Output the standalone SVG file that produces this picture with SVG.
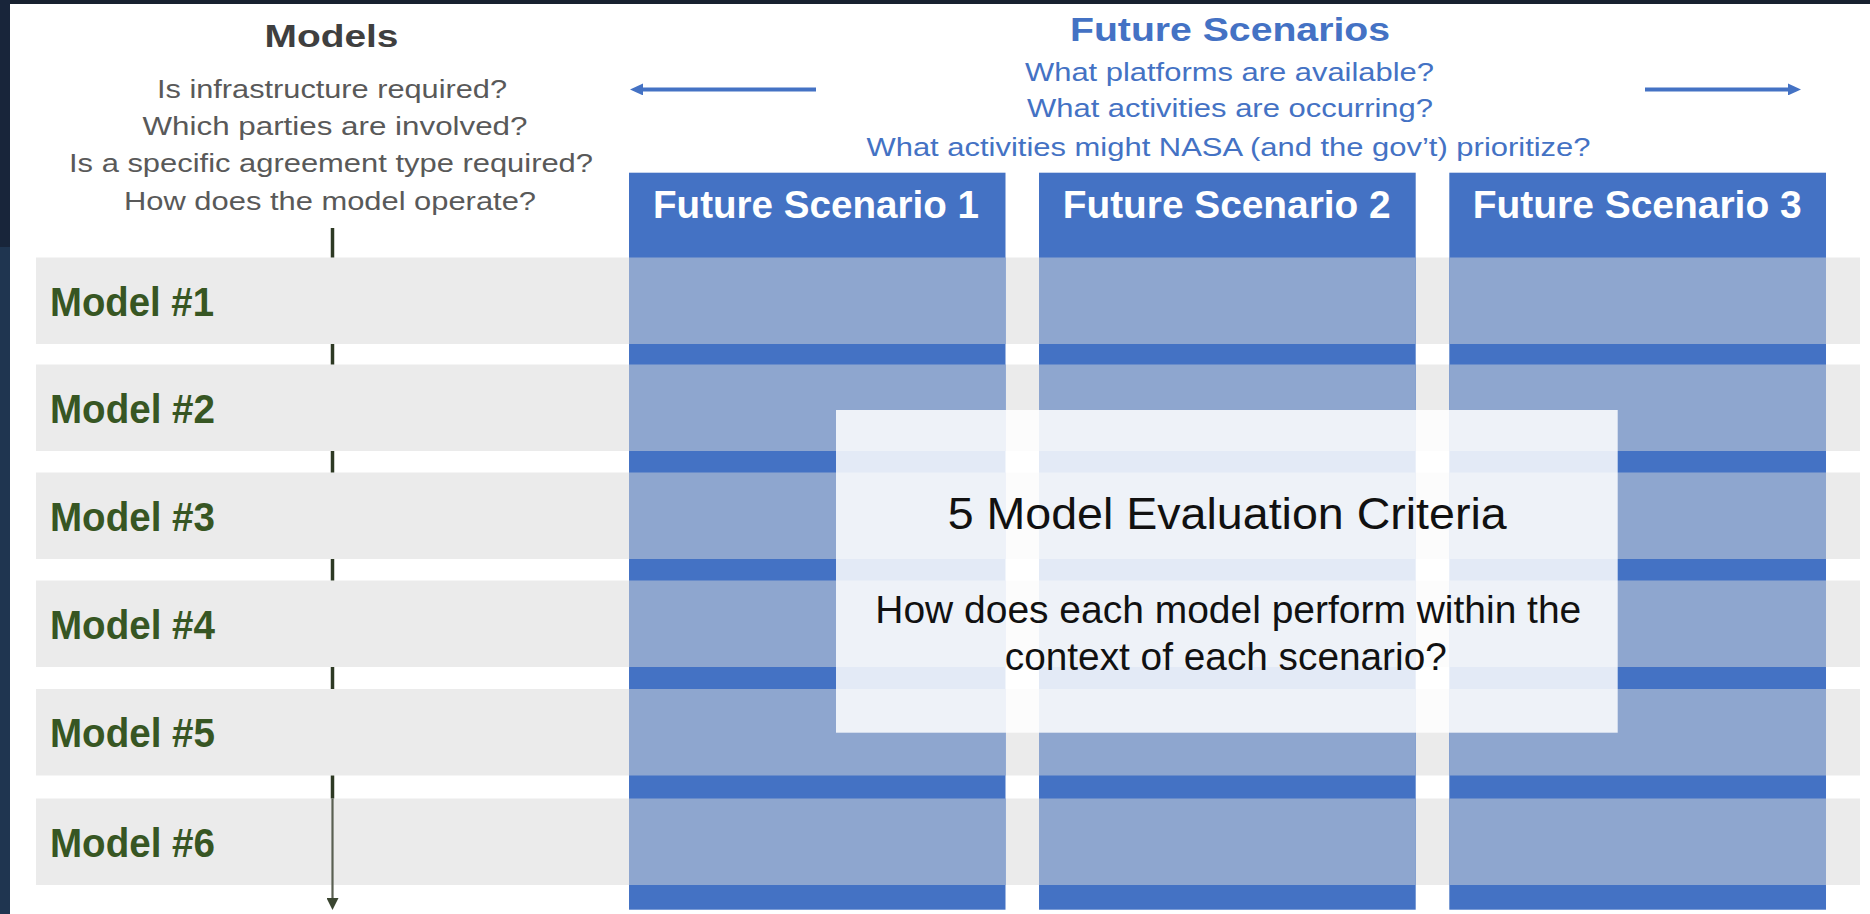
<svg xmlns="http://www.w3.org/2000/svg" width="1870" height="914" viewBox="0 0 1870 914">
  <style>
    text { font-family: "Liberation Sans", Arial, sans-serif; }
    .h-models { font-size: 32px; font-weight: bold; fill: #3f3f3f; }
    .q-models { font-size: 26px; fill: #595959; }
    .h-scen { font-size: 34px; font-weight: bold; fill: #4472C4; }
    .q-scen { font-size: 26px; fill: #4472C4; }
    .col-title { font-size: 39px; font-weight: bold; fill: #ffffff; }
    .model-label { font-size: 40px; font-weight: bold; fill: #375623; }
    .row { fill: #EBEBEB; }
    .col { fill: #4472C4; }
    .cell { fill: #8EA6CF; }
    .crit-title { font-size: 44px; fill: #111111; }
    .crit-text { font-size: 38px; fill: #111111; }
    .tick { stroke: #2e3a24; stroke-width: 3.5; }
    .blue-arrow { stroke: #4472C4; stroke-width: 4; fill: none; }
  </style>
  <defs>
    <marker id="blueHead" markerUnits="userSpaceOnUse" markerWidth="13" markerHeight="12" refX="0" refY="6" orient="auto">
      <path d="M0,0 L13,6 L0,12 z" fill="#4472C4"/>
    </marker>
    <marker id="greenHead" markerUnits="userSpaceOnUse" markerWidth="12" markerHeight="12" refX="0" refY="6" orient="auto">
      <path d="M0,0 L12,6 L0,12 z" fill="#3a4530"/>
    </marker>
  </defs>

  <!-- background -->
  <rect x="0" y="0" width="1870" height="914" fill="#ffffff"/>
  <rect x="0" y="0" width="1870" height="4" fill="#17212f"/>
  <rect x="0" y="0" width="10" height="247" fill="#18253a"/>
  <rect x="0" y="247" width="10" height="667" fill="#1f3550"/>

  <!-- headers -->
  <g id="models-header">
    <text class="h-models" x="331.5" y="46.7" text-anchor="middle" textLength="134" lengthAdjust="spacingAndGlyphs">Models</text>
    <text class="q-models" x="332" y="98.3" text-anchor="middle" textLength="350" lengthAdjust="spacingAndGlyphs">Is infrastructure required?</text>
    <text class="q-models" x="335" y="135" text-anchor="middle" textLength="385" lengthAdjust="spacingAndGlyphs">Which parties are involved?</text>
    <text class="q-models" x="331" y="172" text-anchor="middle" textLength="524" lengthAdjust="spacingAndGlyphs">Is a specific agreement type required?</text>
    <text class="q-models" x="330" y="209.5" text-anchor="middle" textLength="412" lengthAdjust="spacingAndGlyphs">How does the model operate?</text>
  </g>

  <g id="scenarios-header">
    <text class="h-scen" x="1230" y="40.7" text-anchor="middle" textLength="320" lengthAdjust="spacingAndGlyphs">Future Scenarios</text>
    <text class="q-scen" x="1229.5" y="80.7" text-anchor="middle" textLength="409" lengthAdjust="spacingAndGlyphs">What platforms are available?</text>
    <text class="q-scen" x="1230" y="117.3" text-anchor="middle" textLength="406" lengthAdjust="spacingAndGlyphs">What activities are occurring?</text>
    <text class="q-scen" x="1228.5" y="155.7" text-anchor="middle" textLength="724" lengthAdjust="spacingAndGlyphs">What activities might NASA (and the gov’t) prioritize?</text>
  </g>

  <!-- model rows -->
  <g id="model-1"><rect class="row" x="36" y="257.5" width="1824" height="86.5"/><text class="model-label" x="50" y="315.8" textLength="164" lengthAdjust="spacingAndGlyphs">Model #1</text></g>
  <g id="model-2"><rect class="row" x="36" y="364.5" width="1824" height="86.5"/><text class="model-label" x="50" y="422.8" textLength="165" lengthAdjust="spacingAndGlyphs">Model #2</text></g>
  <g id="model-3"><rect class="row" x="36" y="472.5" width="1824" height="86.5"/><text class="model-label" x="50" y="530.8" textLength="165" lengthAdjust="spacingAndGlyphs">Model #3</text></g>
  <g id="model-4"><rect class="row" x="36" y="580.5" width="1824" height="86.5"/><text class="model-label" x="50" y="638.8" textLength="165" lengthAdjust="spacingAndGlyphs">Model #4</text></g>
  <g id="model-5"><rect class="row" x="36" y="689" width="1824" height="86.5"/><text class="model-label" x="50" y="747.3" textLength="165" lengthAdjust="spacingAndGlyphs">Model #5</text></g>
  <g id="model-6"><rect class="row" x="36" y="798.5" width="1824" height="86.5"/><text class="model-label" x="50" y="856.8" textLength="165" lengthAdjust="spacingAndGlyphs">Model #6</text></g>

  <!-- scenario columns -->
  <g id="scenario-1">
    <rect class="col" x="629" y="172.7" width="376.5" height="737"/>
    <rect class="cell" x="629" y="257.5" width="376.5" height="86.5"/>
    <rect class="cell" x="629" y="364.5" width="376.5" height="86.5"/>
    <rect class="cell" x="629" y="472.5" width="376.5" height="86.5"/>
    <rect class="cell" x="629" y="580.5" width="376.5" height="86.5"/>
    <rect class="cell" x="629" y="689" width="376.5" height="86.5"/>
    <rect class="cell" x="629" y="798.5" width="376.5" height="86.5"/>
    <text class="col-title" x="816" y="217.8" text-anchor="middle" textLength="326" lengthAdjust="spacingAndGlyphs">Future Scenario 1</text>
  </g>
  <g id="scenario-2">
    <rect class="col" x="1039" y="172.7" width="376.7" height="737"/>
    <rect class="cell" x="1039" y="257.5" width="376.7" height="86.5"/>
    <rect class="cell" x="1039" y="364.5" width="376.7" height="86.5"/>
    <rect class="cell" x="1039" y="472.5" width="376.7" height="86.5"/>
    <rect class="cell" x="1039" y="580.5" width="376.7" height="86.5"/>
    <rect class="cell" x="1039" y="689" width="376.7" height="86.5"/>
    <rect class="cell" x="1039" y="798.5" width="376.7" height="86.5"/>
    <text class="col-title" x="1226.7" y="217.8" text-anchor="middle" textLength="328" lengthAdjust="spacingAndGlyphs">Future Scenario 2</text>
  </g>
  <g id="scenario-3">
    <rect class="col" x="1449.3" y="172.7" width="376.7" height="737"/>
    <rect class="cell" x="1449.3" y="257.5" width="376.7" height="86.5"/>
    <rect class="cell" x="1449.3" y="364.5" width="376.7" height="86.5"/>
    <rect class="cell" x="1449.3" y="472.5" width="376.7" height="86.5"/>
    <rect class="cell" x="1449.3" y="580.5" width="376.7" height="86.5"/>
    <rect class="cell" x="1449.3" y="689" width="376.7" height="86.5"/>
    <rect class="cell" x="1449.3" y="798.5" width="376.7" height="86.5"/>
    <text class="col-title" x="1637.2" y="217.8" text-anchor="middle" textLength="329" lengthAdjust="spacingAndGlyphs">Future Scenario 3</text>
  </g>

  <!-- criteria overlay -->
  <g id="criteria">
    <rect x="836" y="410" width="781.7" height="322.7" fill="#ffffff" fill-opacity="0.85"/>
    <text class="crit-title" x="1227.2" y="529.3" text-anchor="middle" textLength="559" lengthAdjust="spacingAndGlyphs">5 Model Evaluation Criteria</text>
    <text class="crit-text" x="1228.3" y="622.7" text-anchor="middle" textLength="706" lengthAdjust="spacingAndGlyphs">How does each model perform within the</text>
    <text class="crit-text" x="1225.8" y="670" text-anchor="middle" textLength="442" lengthAdjust="spacingAndGlyphs">context of each scenario?</text>
  </g>

  <!-- connectors -->
  <g id="connectors">
    <line class="blue-arrow" x1="816" y1="89.4" x2="643" y2="89.4" marker-end="url(#blueHead)"/>
    <line class="blue-arrow" x1="1645" y1="89.4" x2="1788" y2="89.4" marker-end="url(#blueHead)"/>
    <line class="tick" x1="332.5" y1="228" x2="332.5" y2="257.5"/>
    <line class="tick" x1="332.5" y1="344" x2="332.5" y2="364.5"/>
    <line class="tick" x1="332.5" y1="451" x2="332.5" y2="472.5"/>
    <line class="tick" x1="332.5" y1="559" x2="332.5" y2="580.5"/>
    <line class="tick" x1="332.5" y1="667" x2="332.5" y2="689"/>
    <line class="tick" x1="332.5" y1="775.5" x2="332.5" y2="798.5"/>
    <line x1="332.5" y1="798.5" x2="332.5" y2="898" stroke="#5a6052" stroke-width="2.2" marker-end="url(#greenHead)"/>
  </g>
</svg>
